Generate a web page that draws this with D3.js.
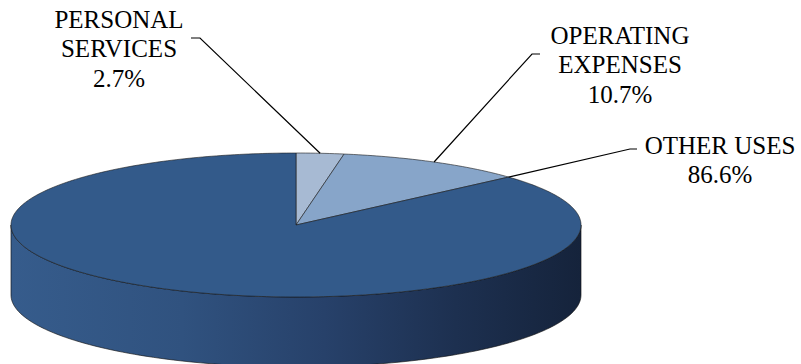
<!DOCTYPE html>
<html><head><meta charset="utf-8">
<script src="https://cdn.jsdelivr.net/npm/d3@7"></script>
<style>body{margin:0;background:#fff}</style>
</head><body>
<script>
const categories = ["PERSONAL SERVICES", "OPERATING EXPENSES", "OTHER USES"];
const labelLines = [["PERSONAL", "SERVICES"], ["OPERATING", "EXPENSES"], ["OTHER USES"]];
const values = [2.7, 10.7, 86.6];
const colors = ["#a7bad3", "#87a5c9", "#335a8a"];

const W = 801, H = 364;
const cx = 296, cy = 225, rx = 285, ry = 72, depth = 70;

const svg = d3.select("body").append("svg").attr("width", W).attr("height", H);
const defs = svg.append("defs");
const grad = defs.append("linearGradient").attr("id", "side")
  .attr("gradientUnits", "userSpaceOnUse").attr("x1", cx - rx).attr("x2", cx + rx).attr("y1", 0).attr("y2", 0);
[[0, "#365c8c"], [0.3, "#30527f"], [0.55, "#27416a"], [0.78, "#1d3050"], [1, "#15233b"]]
  .forEach(([o, c]) => grad.append("stop").attr("offset", o).attr("stop-color", c));

const color = d3.scaleOrdinal().domain(categories).range(colors);
const pie = d3.pie().sort(null).value(d => d.v);
const arcs = pie(categories.map((c, i) => ({ c, v: values[i], lines: labelLines[i] })));

const px = a => cx + rx * Math.sin(a);
const py = (a, dy = 0) => cy - ry * Math.cos(a) + dy;

function ellArc(a0, a1, dy, n = 120) {
  const pts = [];
  for (let k = 0; k <= n; k++) { const a = a0 + (a1 - a0) * k / n; pts.push([px(a), py(a, dy)]); }
  return pts;
}

// side (front half)
const front = ellArc(Math.PI / 2, 3 * Math.PI / 2, 0);
const back = ellArc(3 * Math.PI / 2, Math.PI / 2, depth);
const sidePath = "M" + front.map(p => p.join(",")).join("L") + "L" + back.map(p => p.join(",")).join("L") + "Z";
svg.append("path").attr("d", sidePath).attr("fill", "url(#side)")
  .attr("stroke", "#111").attr("stroke-width", 0.8).attr("stroke-opacity", 0.8);

// top slices
arcs.forEach(d => {
  const pts = ellArc(d.startAngle, d.endAngle, 0, Math.max(8, Math.round((d.endAngle - d.startAngle) * 60)));
  const path = `M${cx},${cy}L` + pts.map(p => p.join(",")).join("L") + "Z";
  svg.append("path").attr("d", path).attr("fill", color(d.data.c))
    .attr("stroke", "#1a1a1a").attr("stroke-width", 0.7).attr("stroke-opacity", 0.85)
    .attr("stroke-linejoin", "round");
});

// leader lines & labels (layout)
const layout = [
  { anchorAngle: d => (d.startAngle + d.endAngle) / 2, elbow: [200, 38], end: [191, 38], tx: 119, ty: 28 },
  { anchorAngle: d => (d.startAngle + d.endAngle) / 2, elbow: [532, 54], end: [540, 54], tx: 620, ty: 44 },
  { anchorAngle: d => d.startAngle, elbow: [630, 149], end: [637, 149], tx: 720, ty: 154 }
];
const lh = 29.3;
arcs.forEach((d, i) => {
  const L = layout[i];
  const a = L.anchorAngle(d);
  const ax = px(a), ay = py(a);
  svg.append("polyline").attr("points", [[ax, ay], L.elbow, L.end].map(p => p.join(",")).join(" "))
    .attr("fill", "none").attr("stroke", "#000").attr("stroke-width", 1.2);
  const lines = d.data.lines.concat([d3.format(".1f")(d.data.v) + "%"]);
  lines.forEach((s, k) => {
    const t = svg.append("text")
      .attr("x", L.tx).attr("y", L.ty + k * lh)
      .style("font-family", '"Times New Roman", "Liberation Serif", serif').style("font-size", "25px")
      .text(s);
    const w = t.node().getComputedTextLength();
    t.attr("x", L.tx - w / 2);
  });
});
</script>
</body></html>
